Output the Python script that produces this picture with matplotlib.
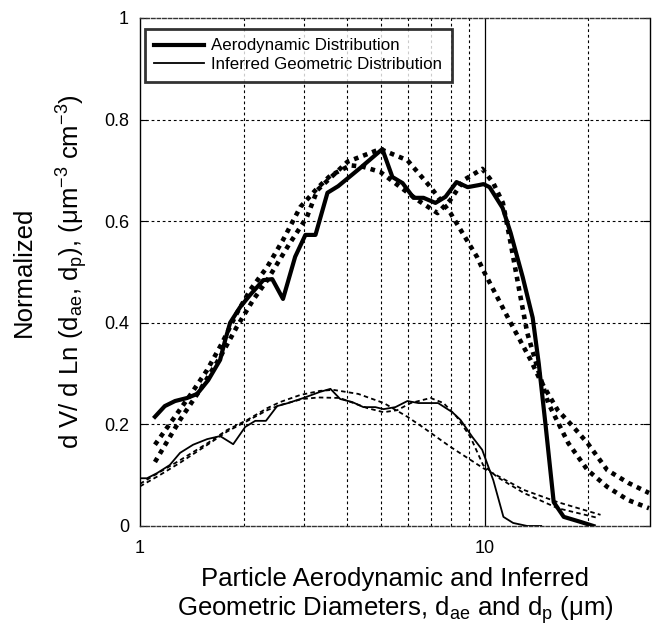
import matplotlib
matplotlib.use("Agg")
import matplotlib.pyplot as plt
from matplotlib.lines import Line2D

plt.rcParams['font.family'] = ['Liberation Sans', 'DejaVu Sans']
plt.rcParams['mathtext.fontset'] = 'custom'
plt.rcParams['mathtext.rm'] = 'Liberation Sans'
plt.rcParams['mathtext.it'] = 'Liberation Sans'
plt.rcParams['mathtext.default'] = 'regular'

# Aerodynamic distribution (thick solid)
aero_x = [1.105, 1.18, 1.264, 1.37, 1.465, 1.577, 1.708, 1.767, 1.826, 1.953, 2.088, 2.279,
          2.42, 2.60, 2.82, 3.02, 3.23, 3.50, 3.76, 4.36, 5.05, 5.40, 5.78, 6.22, 6.65, 7.20,
          7.70, 8.29, 8.93, 9.61, 9.93, 10.34, 11.28, 11.9, 12.9, 13.79, 14.36, 15.05, 15.87,
          16.97, 19.0, 20.7]
aero_y = [0.215, 0.236, 0.246, 0.252, 0.26, 0.287, 0.327, 0.366, 0.40, 0.431, 0.455, 0.484,
          0.486, 0.447, 0.53, 0.573, 0.573, 0.656, 0.669, 0.705, 0.742, 0.687, 0.675, 0.646,
          0.646, 0.636, 0.648, 0.677, 0.667, 0.671, 0.673, 0.667, 0.626, 0.577, 0.49, 0.41,
          0.32, 0.195, 0.047, 0.018, 0.008, 0.0]

# Inferred geometric distribution (thin solid)
geom_x = [1.0, 1.048, 1.12, 1.22, 1.307, 1.426, 1.566, 1.708, 1.864, 2.02, 2.16, 2.32, 2.50,
          2.69, 2.98, 3.33, 3.57, 3.81, 4.13, 4.45, 4.82, 5.09, 5.51, 5.97, 6.43, 7.33, 8.06,
          8.51, 9.22, 9.84, 10.6, 11.34, 12.1, 13.3, 14.6]
geom_y = [0.094, 0.094, 0.104, 0.12, 0.144, 0.16, 0.171, 0.177, 0.161, 0.195, 0.207, 0.207,
          0.236, 0.242, 0.252, 0.264, 0.27, 0.25, 0.244, 0.234, 0.234, 0.23, 0.234, 0.246,
          0.242, 0.242, 0.224, 0.209, 0.175, 0.15, 0.09, 0.018, 0.006, 0.0, 0.0]

# Bimodal fit to aerodynamic distribution (thick dotted)
fit_aero_bi_x = [1.105, 1.40, 1.566, 1.73, 1.91, 2.09, 2.34, 2.6, 2.92, 3.27, 3.57, 4.08, 4.45,
                 4.98, 5.7, 6.38, 7.3, 7.96, 8.7, 9.85, 10.6, 11.3, 11.9, 12.6, 13.3, 14.3,
                 15.3, 17.5, 19.9, 22.7, 26.1, 30.0]
fit_aero_bi_y = [0.16, 0.258, 0.307, 0.36, 0.419, 0.465, 0.51, 0.563, 0.628, 0.665, 0.69, 0.71,
                 0.707, 0.697, 0.667, 0.642, 0.616, 0.642, 0.681, 0.703, 0.675, 0.636, 0.557,
                 0.465, 0.38, 0.307, 0.242, 0.163, 0.11, 0.077, 0.051, 0.035]

# Unimodal fit to aerodynamic distribution (thick dotted)
fit_aero_uni_x = [1.105, 1.307, 1.494, 1.71, 1.91, 2.13, 2.34, 2.7, 3.05, 3.27, 4.0, 4.98, 5.97,
                  6.97, 7.96, 9.5, 9.9, 11.9, 13.6, 14.5, 16.3, 18.1, 19.9, 22.7, 26.1, 30.0]
fit_aero_uni_y = [0.126, 0.209, 0.268, 0.333, 0.392, 0.445, 0.484, 0.553, 0.608, 0.661, 0.717,
                  0.742, 0.72, 0.667, 0.616, 0.53, 0.504, 0.40, 0.327, 0.287, 0.228, 0.195,
                  0.163, 0.11, 0.085, 0.065]

# Unimodal fit to geometric distribution (thin dashed)
fit_geom_uni_x = [1.0, 1.14, 1.31, 1.57, 1.79, 2.05, 2.34, 2.55, 2.92, 3.33, 3.64, 4.3, 5.1,
                  5.97, 6.6, 7.95, 9.9, 11.1, 13.0, 16.3, 21.7]
fit_geom_uni_y = [0.083, 0.106, 0.13, 0.163, 0.189, 0.209, 0.232, 0.244, 0.258, 0.266, 0.268,
                  0.26, 0.242, 0.215, 0.195, 0.156, 0.114, 0.096, 0.071, 0.047, 0.022]

# Bimodal fit to geometric distribution (thin dashed)
fit_geom_bi_x = [1.0, 1.14, 1.31, 1.57, 1.79, 2.05, 2.34, 2.55, 2.96, 3.3, 3.8, 4.57, 5.09,
                 5.58, 6.1, 6.97, 7.6, 8.3, 9.1, 9.9, 10.9, 13.0, 16.3, 21.3]
fit_geom_bi_y = [0.078, 0.1, 0.125, 0.16, 0.186, 0.207, 0.228, 0.238, 0.25, 0.253, 0.252,
                 0.232, 0.224, 0.228, 0.242, 0.252, 0.242, 0.215, 0.175, 0.12, 0.096, 0.065,
                 0.035, 0.016]

x_ticks = [1, 10]
x_ticklabels = ['1', '10']
y_ticks = [0, 0.2, 0.4, 0.6, 0.8, 1]
y_ticklabels = ['0', '0.2', '0.4', '0.6', '0.8', '1']
x_grid = [2, 3, 4, 5, 6, 7, 8, 9, 20]
y_grid = [0.2, 0.4, 0.6, 0.8]

fig = plt.figure(figsize=(6.53, 6.27), dpi=100)
ax = fig.add_axes([140/653, 101/627, 510/653, 508/627])
ax.set_xscale('log')
ax.set_xlim(1, 30.2)
ax.set_ylim(0, 1)

for gx in x_grid:
    ax.axvline(gx, color='black', lw=0.8, ls=(0, (2.5, 2.5)), zorder=1)
for gy in y_grid:
    ax.axhline(gy, color='black', lw=0.8, ls=(0, (2.5, 2.5)), zorder=1)
ax.axvline(10, color='black', lw=0.9, zorder=1)

dot = (0, (1.0, 1.1))
ax.plot(fit_aero_bi_x, fit_aero_bi_y, color='black', lw=3.3, ls=dot, dash_capstyle='butt', zorder=3)
ax.plot(fit_aero_uni_x, fit_aero_uni_y, color='black', lw=3.3, ls=dot, dash_capstyle='butt', zorder=3)
ax.plot(fit_geom_uni_x, fit_geom_uni_y, color='black', lw=1.3, ls=(0, (2.5, 1.8)), zorder=3)
ax.plot(fit_geom_bi_x, fit_geom_bi_y, color='black', lw=1.3, ls=(0, (2.5, 1.8)), zorder=3)
ax.plot(aero_x, aero_y, color='black', lw=3.0, zorder=4)
ax.plot(geom_x, geom_y, color='black', lw=1.3, zorder=4)

ax.set_xticks(x_ticks)
ax.set_xticklabels(x_ticklabels)
ax.xaxis.set_minor_locator(matplotlib.ticker.NullLocator())
ax.set_yticks(y_ticks)
ax.set_yticklabels(y_ticklabels)
ax.tick_params(axis='both', direction='in', length=5, width=0.8, labelsize=13, pad=8)
ax.tick_params(axis='x', length=0, pad=10)
ax.tick_params(axis='y', right=True)

for s in ['top', 'bottom']:
    ax.spines[s].set_linestyle((0, (2.5, 1.5)))
    ax.spines[s].set_linewidth(1.0)
    ax.spines[s].set_color('#333333')
for s in ['left', 'right']:
    ax.spines[s].set_linewidth(1.0)

ax.set_xlabel('Particle Aerodynamic and Inferred\nGeometric Diameters, d$_{ae}$ and d$_{p}$ ($\\mu$m)',
              fontsize=18.5, linespacing=1.15, labelpad=7)
ax.set_ylabel('Normalized\nd V/ d Ln (d$_{ae}$, d$_{p}$), ($\\mu$m$^{-3}$ cm$^{-3}$)',
              fontsize=18.5, linespacing=1.7, labelpad=10)

handles = [Line2D([], [], color='black', lw=3.0), Line2D([], [], color='black', lw=1.3)]
leg = ax.legend(handles, ['Aerodynamic Distribution', 'Inferred Geometric Distribution'],
                loc='upper left', bbox_to_anchor=(0.01, 0.978), fontsize=12.2,
                frameon=True, fancybox=False, borderpad=0.55, handlelength=2.9,
                handletextpad=0.45, labelspacing=0.22, borderaxespad=0)
leg.get_frame().set_edgecolor('black')
leg.get_frame().set_linewidth(2.0)
leg.set_zorder(5)

fig.savefig('out.png', dpi=100)
